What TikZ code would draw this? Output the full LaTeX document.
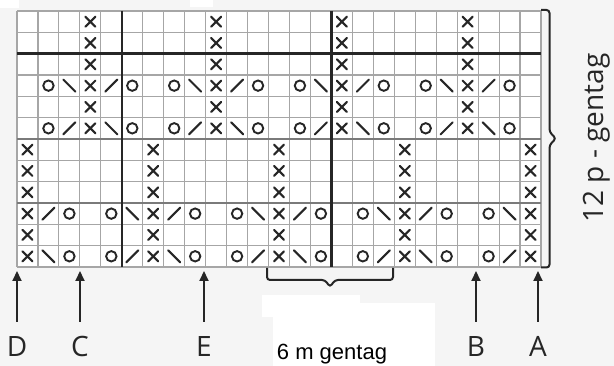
\documentclass[tikz,border=0pt]{standalone}
\usepackage{fontspec}
\setmainfont{Open Sans}
\newfontfamily\arialf{Liberation Sans}
\usetikzlibrary{arrows.meta}
\definecolor{ink}{HTML}{262626}
\definecolor{gridc}{HTML}{A6A6A6}
\definecolor{midc}{HTML}{7A7A7A}
\definecolor{bgc}{HTML}{F5F5F5}
\tikzset{
  sym/.style={draw=ink, line width=2.1pt, line cap=round},
  xs/.pic={\draw[sym] (-5pt,-5pt) -- (5pt,5pt) (-5pt,5pt) -- (5pt,-5pt);},
  os/.pic={\draw[sym, line width=1.9pt] (0,0) circle (5.2pt);},
  bs/.pic={\draw[sym] (-6pt,6pt) -- (6pt,-6pt);},
  fs/.pic={\draw[sym] (-6pt,-6pt) -- (6pt,6pt);},
  gridline/.style={draw=gridc, line width=1.1pt},
  midline/.style={draw=midc, line width=1.3pt},
  heavyline/.style={draw=ink, line width=2.4pt},
  bracepath/.style={draw=ink, line width=2pt, rounded corners=3pt},
  arr/.style={draw=ink, line width=2pt, -{Triangle[length=10pt,width=9pt]}},
  lbl/.style={font=\fontsize{28}{30}\selectfont, text=ink, anchor=base, inner sep=0pt},
}
\begin{document}
\begin{tikzpicture}[x=1pt,y=-1pt]
\useasboundingbox (0,0) rectangle (614,366);
\fill[bgc] (0,0) rectangle (614,366);
\fill[white] (0,0) rectangle (19,8);
\fill[white] (190,0) rectangle (213,7);
\fill[white] (262,295) rectangle (360,317);
\fill[white] (273,303) rectangle (435,366);

\begin{scope}[shift={(17pt,-11pt)}, x=20.96pt, y=-21.33pt]
  \fill[white] (0,0) rectangle (25,12);
  \foreach \i in {0,...,25} \draw[gridline] (\i,0) -- (\i,12);
  \foreach \j in {0,...,12} \draw[gridline] (0,\j) -- (25,\j);
  \draw[midline] (0,6) -- (25,6) (0,9) -- (25,9);
  \draw[heavyline] (5,0) -- (5,12) (15,0) -- (15,12) (0,2) -- (25,2);
  % upper section: X columns 4,10,16,22
  \foreach \r in {1,...,6} \foreach \c in {4,10,16,22} \pic at (\c-0.5,\r-0.5) {xs};
  \foreach \c in {4,10,16,22} {
    \pic at (\c-2.5,3.5) {os}; \pic at (\c-1.5,3.5) {bs};
    \pic at (\c+0.5,3.5) {fs}; \pic at (\c+1.5,3.5) {os};
    \pic at (\c-2.5,5.5) {os}; \pic at (\c-1.5,5.5) {fs};
    \pic at (\c+0.5,5.5) {bs}; \pic at (\c+1.5,5.5) {os};
  }
  % lower section: X columns 1,7,13,19,25
  \foreach \r in {7,...,12} \foreach \c in {1,7,13,19,25} \pic at (\c-0.5,\r-0.5) {xs};
  \foreach \c in {1,7,13,19} {
    \pic at (\c+0.5,9.5) {fs}; \pic at (\c+1.5,9.5) {os};
    \pic at (\c+0.5,11.5) {bs}; \pic at (\c+1.5,11.5) {os};
  }
  \foreach \c in {7,13,19,25} {
    \pic at (\c-1.5,9.5) {bs}; \pic at (\c-2.5,9.5) {os};
    \pic at (\c-1.5,11.5) {fs}; \pic at (\c-2.5,11.5) {os};
  }
\end{scope}

% right brace
\draw[bracepath] (541,10) -- (549.5,10) -- (549.5,132) -- (556,138.5) -- (549.5,145) -- (549.5,267.5) -- (541,267.5);
\node[lbl, anchor=center, rotate=90] (rep12) at (597,138) {12 p - gentag};

% bottom brace
\draw[bracepath] (267,268) -- (267,280) -- (325,280) -- (330,287) -- (335,280) -- (393,280) -- (393,268);
\node[font=\arialf\fontsize{22}{24}\selectfont, text=black, anchor=base, inner sep=0pt] (rep6) at (332,360) {6 m gentag};

% arrows and labels
\foreach \n/\x in {D/17,C/80,E/204,B/476,A/538} {
  \coordinate (t\n) at (\x,271);
  \coordinate (b\n) at (\x,322);
  \draw[arr] (b\n) -- (t\n);
  \node[lbl] (\n) at (\x,357) {\n};
}
\end{tikzpicture}
\end{document}
